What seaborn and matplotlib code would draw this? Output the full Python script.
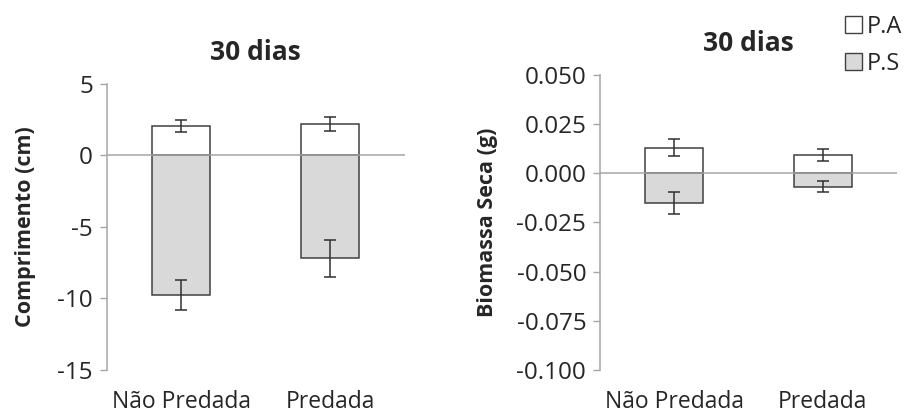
import numpy as np
import pandas as pd
import seaborn as sns
from matplotlib import pyplot as plt
from matplotlib.patches import Patch

# dados
grupos = ["Não Predada", "Predada"]

comp_pa = [2.05, 2.2]
comp_pa_err = [0.4, 0.5]
comp_ps = [-9.75, -7.2]
comp_ps_err = [1.05, 1.3]

bio_pa = [0.013, 0.0093]
bio_pa_err = [0.0045, 0.003]
bio_ps = [-0.015, -0.0068]
bio_ps_err = [0.0055, 0.0026]

sns.set_style("white")
plt.rcParams['font.family'] = ['Open Sans', 'DejaVu Sans']

branco = "#ffffff"
cinza = "#d9d9d9"
borda = "#404040"
linha = "#a6a6a6"

fig = plt.figure(figsize=(9.05, 4.16), dpi=100)
ax1 = fig.add_axes([0.118, 0.111, 0.329, 0.6875])
ax2 = fig.add_axes([0.663, 0.111, 0.328, 0.709])


def painel(ax, pa, pa_err, ps, ps_err, ylabel, ylim, ticks, fmt, tpad, lpad):
    df_pa = pd.DataFrame({"grupo": grupos, "valor": pa})
    df_ps = pd.DataFrame({"grupo": grupos, "valor": ps})
    sns.barplot(data=df_pa, x="grupo", y="valor", color=branco, width=0.39,
                edgecolor=borda, linewidth=1.1, ax=ax, saturation=1)
    sns.barplot(data=df_ps, x="grupo", y="valor", color=cinza, width=0.39,
                edgecolor=borda, linewidth=1.1, ax=ax, saturation=1)
    pos = np.arange(len(grupos))
    ax.errorbar(pos, pa, yerr=pa_err, fmt="none", ecolor="#303030",
                elinewidth=1.1, capsize=4, capthick=1.1, zorder=5)
    ax.errorbar(pos, ps, yerr=ps_err, fmt="none", ecolor="#303030",
                elinewidth=1.1, capsize=4, capthick=1.1, zorder=5)
    ax.axhline(0, color=linha, lw=1.1, zorder=4)
    ax.set_xlim(-0.5, 1.5)
    ax.set_ylim(*ylim)
    ax.set_yticks(ticks)
    ax.set_yticklabels([fmt.format(t) for t in ticks])
    ax.set_xlabel("")
    ax.set_ylabel(ylabel, fontsize=15.5, fontweight="bold", labelpad=lpad)
    ax.set_title("30 dias", fontsize=19, fontweight="bold", pad=tpad)
    for s in ["top", "right", "bottom"]:
        ax.spines[s].set_visible(False)
    ax.spines["left"].set_color(linha)
    ax.spines["left"].set_linewidth(1.1)
    ax.tick_params(axis="y", which="both", left=True, length=5, width=1,
                   color=linha, labelsize=17.5, pad=5)
    ax.tick_params(axis="x", bottom=False, labelsize=16.5, pad=11)


painel(ax1, comp_pa, comp_pa_err, comp_ps, comp_ps_err, "Comprimento (cm)",
       (-15, 5), [5, 0, -5, -10, -15], "{:g}", 17, 15)
painel(ax2, bio_pa, bio_pa_err, bio_ps, bio_ps_err, "Biomassa Seca (g)",
       (-0.1, 0.05), [0.05, 0.025, 0.0, -0.025, -0.05, -0.075, -0.1], "{:.3f}",
       17, 13)

handles = [Patch(facecolor=branco, edgecolor=borda, label="P.A"),
           Patch(facecolor=cinza, edgecolor=borda, label="P.S")]
fig.legend(handles=handles, loc="upper right", bbox_to_anchor=(1.02, 1.015),
           frameon=False, fontsize=17, handlelength=0.7, handleheight=0.7,
           handletextpad=0.2, labelspacing=0.55)

fig.savefig("out.png", dpi=100)
